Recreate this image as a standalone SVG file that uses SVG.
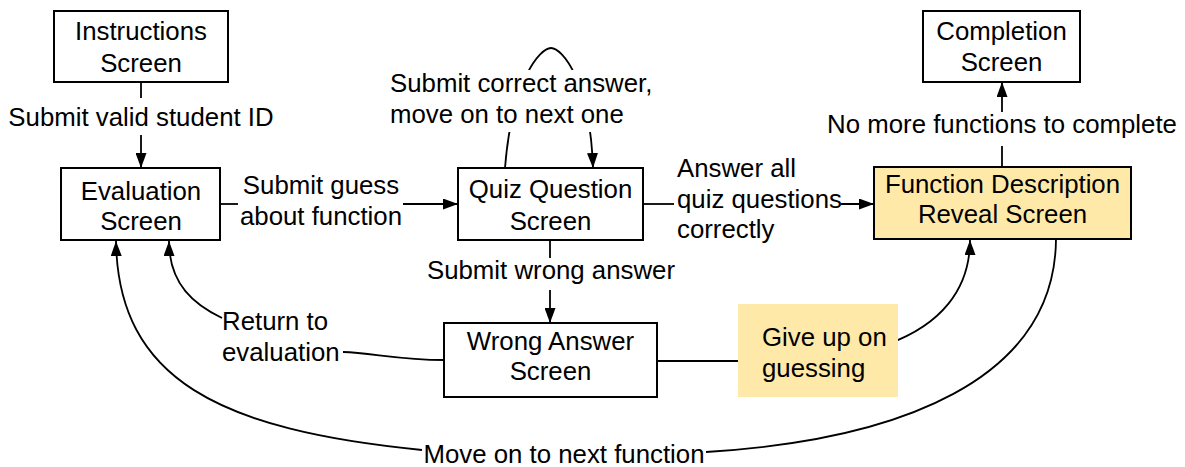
<svg xmlns="http://www.w3.org/2000/svg" width="1185" height="467" viewBox="0 0 1185 467">
<style>
  text { font-family: "Liberation Sans", Arial, sans-serif; font-size: 25.8px; fill: #000; }
  .c { text-anchor: middle; }
  .box { fill: #fff; stroke: #000; stroke-width: 2; }
  .ybox { fill: #FFE9A8; stroke: #000; stroke-width: 2; }
  .ln { fill: none; stroke: #000; stroke-width: 1.8; }
  .arr { marker-end: url(#ah); }
</style>
<defs>
  <marker id="ah" markerUnits="userSpaceOnUse" markerWidth="15" markerHeight="11" refX="15" refY="5.5" orient="auto">
    <path d="M0,0 L15,5.5 L0,11 z" fill="#000"/>
  </marker>
</defs>
<rect width="1185" height="467" fill="#fff"/>

<g id="connectors">
  <line class="ln" x1="141" y1="82" x2="141" y2="98"/>
  <line class="ln arr" x1="141" y1="135" x2="141" y2="168"/>
  <line class="ln" x1="220" y1="204" x2="238" y2="204"/>
  <line class="ln arr" x1="403" y1="204" x2="458" y2="204"/>
  <path class="ln arr" d="M505,168 C512,80 540,48 551,48 C562,48 590,80 593,168"/>
  <line class="ln" x1="643" y1="204" x2="674" y2="204"/>
  <line class="ln arr" x1="841" y1="204" x2="874" y2="204"/>
  <line class="ln" x1="1002" y1="167" x2="1002" y2="146"/>
  <line class="ln arr" x1="1002" y1="112" x2="1002" y2="82"/>
  <line class="ln" x1="550" y1="240" x2="550" y2="258"/>
  <line class="ln arr" x1="550" y1="290" x2="550" y2="323"/>
  <path class="ln" d="M444,360 C400,360 372,353 343,352"/>
  <path class="ln arr" d="M222,318 C195,305 169,285 169,241"/>
  <line class="ln" x1="657" y1="361" x2="760" y2="361"/>
  <path class="ln arr" d="M888,344 C940,325 970,290 970,240"/>
  <path class="ln" d="M1056,239 C1055,380 900,440 706,452"/>
  <path class="ln arr" d="M422,450 C220,430 118,380 116,241"/>
</g>

<g id="labels">
  <text class="c" x="141" y="126">Submit valid student ID</text>
  <text class="c" x="321" y="194">Submit guess</text>
  <text class="c" x="321" y="225">about function</text>
  <rect x="388" y="70" width="268" height="62" fill="#fff"/>
  <text x="390" y="92">Submit correct answer,</text>
  <text x="390" y="123">move on to next one</text>
  <text x="677" y="177">Answer all</text>
  <text x="677" y="208">quiz questions</text>
  <text x="677" y="238">correctly</text>
  <text class="c" x="1002" y="133">No more functions to complete</text>
  <text class="c" x="551" y="279">Submit wrong answer</text>
  <text x="222" y="330">Return to</text>
  <text x="222" y="361">evaluation</text>
  <text class="c" x="564" y="463">Move on to next function</text>
</g>

<g id="instructions">
  <rect class="box" x="54" y="11" width="174" height="71"/>
  <text class="c" x="141" y="40">Instructions</text>
  <text class="c" x="141" y="72">Screen</text>
</g>
<g id="evaluation">
  <rect class="box" x="61" y="168" width="159" height="72"/>
  <text class="c" x="141" y="200">Evaluation</text>
  <text class="c" x="141" y="230">Screen</text>
</g>
<g id="quiz">
  <rect class="box" x="458" y="168" width="185" height="72"/>
  <text class="c" x="550.5" y="198">Quiz Question</text>
  <text class="c" x="550.5" y="230">Screen</text>
</g>
<g id="completion">
  <rect class="box" x="923" y="11" width="157" height="71"/>
  <text class="c" x="1001.5" y="40">Completion</text>
  <text class="c" x="1001.5" y="71">Screen</text>
</g>
<g id="reveal">
  <rect class="ybox" x="874" y="167" width="257" height="72"/>
  <text class="c" x="1002.5" y="193">Function Description</text>
  <text class="c" x="1002.5" y="223">Reveal Screen</text>
</g>
<g id="wrong">
  <rect class="box" x="444" y="323" width="213" height="74"/>
  <text class="c" x="550.5" y="350">Wrong Answer</text>
  <text class="c" x="550.5" y="380">Screen</text>
</g>
<g id="giveup">
  <rect x="738" y="304" width="160" height="93" fill="#FFE9A8"/>
  <text x="762" y="346">Give up on</text>
  <text x="762" y="377">guessing</text>
</g>
</svg>
